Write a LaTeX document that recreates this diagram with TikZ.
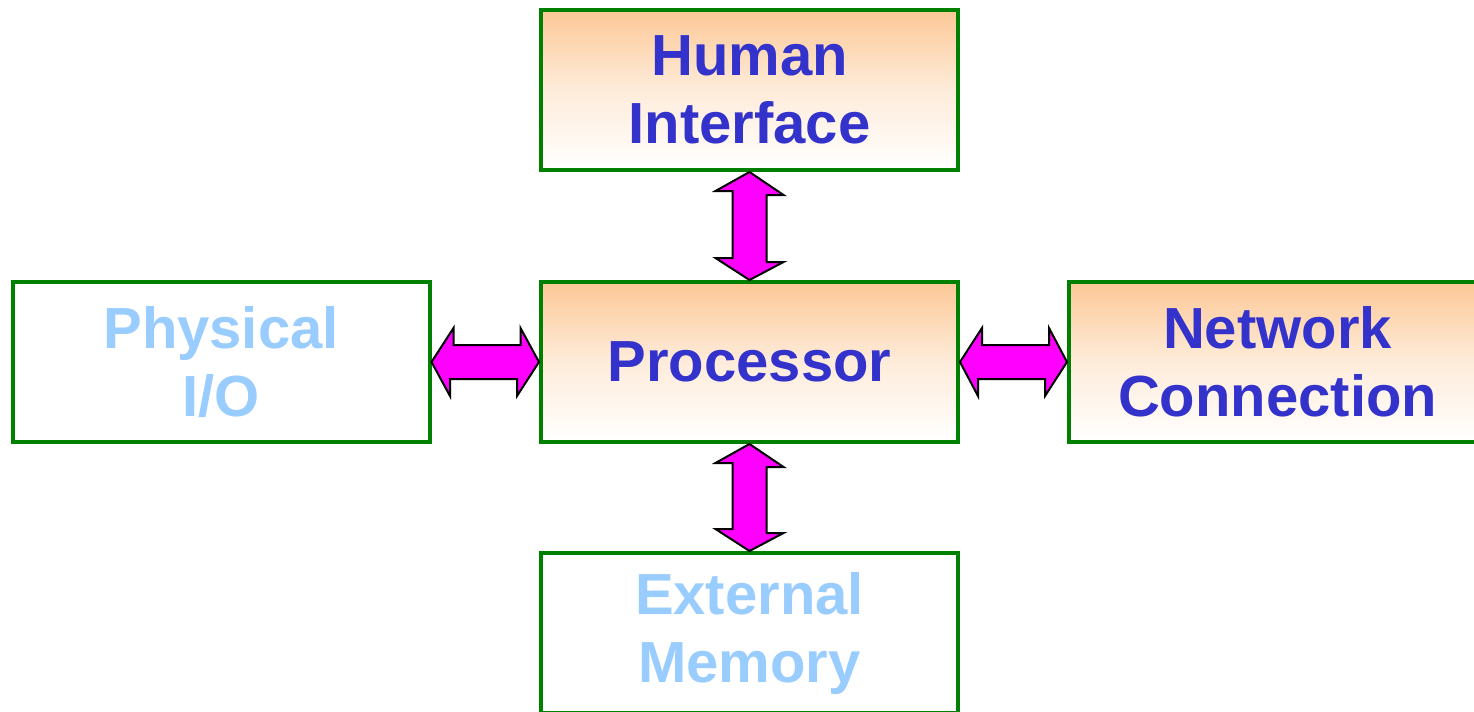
\documentclass[tikz,border=0pt]{standalone}
\usepackage{fontspec}
\setmainfont{Liberation Sans}
\usepackage{tikz}

\definecolor{boxgreen}{RGB}{0,128,0}
\definecolor{boxorange}{RGB}{252,200,150}
\definecolor{textblue}{RGB}{51,51,204}
\definecolor{textlight}{RGB}{153,204,255}
\definecolor{arrowpink}{RGB}{255,0,255}

\tikzset{
  box/.style={draw=boxgreen, line width=2pt, minimum width=208.5pt, minimum height=80pt,
    align=center, font=\fontsize{29}{34}\selectfont\bfseries, inner sep=0pt},
  activebox/.style={box, top color=boxorange, bottom color=white, middle color=boxorange!35, text=textblue},
  idlebox/.style={box, fill=white, text=textlight},
  dblarrow/.style={draw=black, fill=arrowpink, line width=1pt, line join=miter}
}

\begin{document}
\begin{tikzpicture}[x=0.5pt,y=-0.5pt]
\useasboundingbox (0,0) rectangle (1474,712);

\node[activebox] (human) at (749.5,90) {Human\\Interface};
\node[activebox] (proc) at (749.5,362) {Processor};
\node[idlebox] (physio) at (221,362) {Physical\\I/O};
\node[activebox] (network) at (1277.5,362) {Network\\Connection};
\node[idlebox] (extmem) at (749.5,633) {External\\Memory};

\draw[dblarrow] (human.south) -- ++(34,23) -- ++(-17,0) -- ++(0,67) -- ++(17,0) -- (proc.north)
  -- ++(-34,-22) -- ++(17,0) -- ++(0,-67) -- ++(-17,0) -- cycle;
\draw[dblarrow] (proc.south) -- ++(34,23) -- ++(-17,0) -- ++(0,66) -- ++(17,0) -- (extmem.north)
  -- ++(-34,-22) -- ++(17,0) -- ++(0,-66) -- ++(-17,0) -- cycle;
\draw[dblarrow] (physio.east) -- ++(22,-34) -- ++(0,17) -- ++(67,0) -- ++(0,-17) -- (proc.west)
  -- ++(-22,34) -- ++(0,-17) -- ++(-67,0) -- ++(0,17) -- cycle;
\draw[dblarrow] (proc.east) -- ++(22,-34) -- ++(0,17) -- ++(67,0) -- ++(0,-17) -- (network.west)
  -- ++(-22,34) -- ++(0,-17) -- ++(-67,0) -- ++(0,17) -- cycle;
\end{tikzpicture}
\end{document}
